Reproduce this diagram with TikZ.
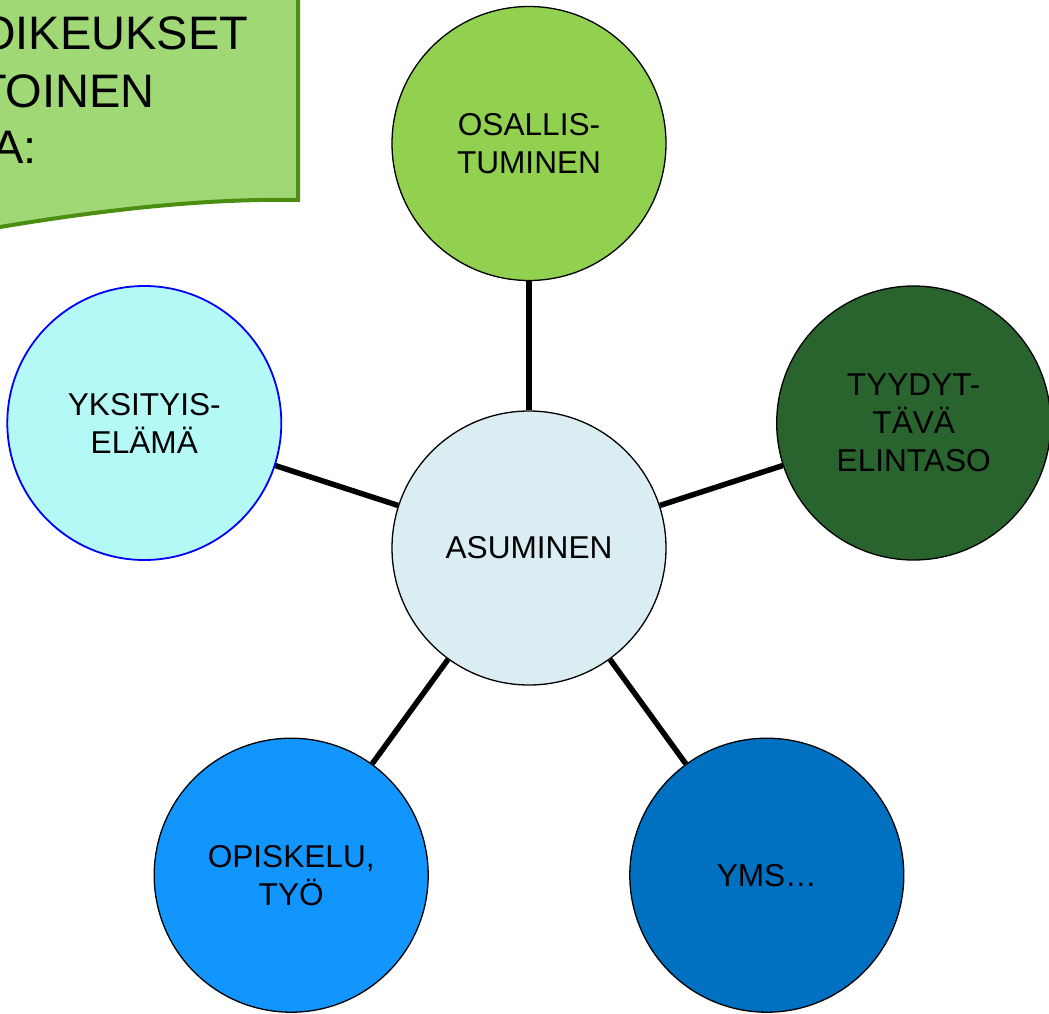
\documentclass[tikz,border=0pt]{standalone}
\usepackage{fontspec}
\setmainfont{Liberation Sans}
\definecolor{cgreen}{HTML}{92D050}
\definecolor{cdark}{HTML}{29642F}
\definecolor{ccyan}{HTML}{B5F9F6}
\definecolor{ccenter}{HTML}{DAEDF3}
\definecolor{clblue}{HTML}{1296FE}
\definecolor{cblue}{HTML}{0070C0}
\definecolor{docfill}{HTML}{A0D876}
\definecolor{docline}{HTML}{4A8F12}
\begin{document}
\begin{tikzpicture}[x=1pt,y=-1pt,
  bubble/.style={circle,draw=black,line width=1.3pt,minimum size=274pt,inner sep=0pt,align=center,
    font=\fontsize{31.6}{38}\selectfont,text=black},
  spoke/.style={line width=5.5pt,black},
  bigtext/.style={anchor=base east,inner sep=0pt,font=\fontsize{47}{56}\selectfont,text=black}]
\useasboundingbox (0,0) rectangle (1049,1014);
% document shape (partly off page)
\path[fill=docfill,draw=docline,line width=4pt]
  (-60,-20) -- (298,-20) -- (298,200)
  .. controls (240,199) and (150,202) .. (0,227)
  .. controls (-20,230) and (-40,233) .. (-60,235) -- cycle;
\node[bigtext] (t1) at (248.3,49.3) {OIKEUKSET};
\node[bigtext] (t2) at (155,107.3) {TOINEN};
\node[bigtext] (t3) at (37,163.3) {A:};
% circles
\node[bubble,fill=ccenter] (c) at (529,548) {ASUMINEN};
\node[bubble,fill=cgreen] (o) at (529,143.5) {OSALLIS-\\TUMINEN};
\node[bubble,fill=cdark] (t) at (913.7,423) {TYYDYT-\\TÄVÄ\\ELINTASO};
\node[bubble,fill=ccyan,draw=blue,line width=1.8pt] (y) at (144.3,423) {YKSITYIS-\\ELÄMÄ};
\node[bubble,fill=clblue] (p) at (291.2,875.2) {OPISKELU,\\TYÖ};
\node[bubble,fill=cblue] (m) at (766.8,875.2) {YMS…};
% spokes
\draw[spoke] (c) -- (o);
\draw[spoke] (c) -- (t);
\draw[spoke] (c) -- (y);
\draw[spoke] (c) -- (p);
\draw[spoke] (c) -- (m);
\end{tikzpicture}
\end{document}
